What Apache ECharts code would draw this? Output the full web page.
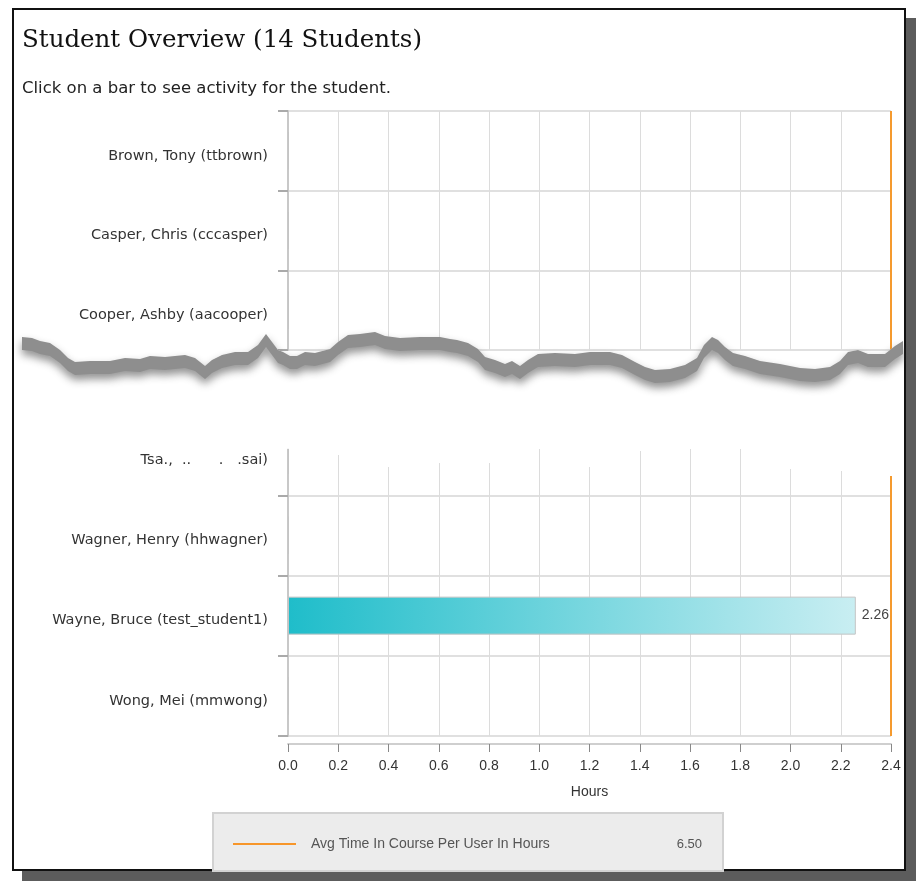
<!DOCTYPE html>
<html>
<head>
<meta charset="utf-8">
<script src="https://cdn.jsdelivr.net/npm/echarts@6/dist/echarts.min.js"></script>
<style>
html,body{margin:0;padding:0;background:#fff;}
#frame{position:absolute;left:12px;top:8px;width:890px;height:859px;border:2px solid #111;background:#fff;box-shadow:10px 10px 0 #5c5c5c;}
#chart{position:absolute;left:0;top:0;width:917px;height:882px;}
</style>
</head>
<body>
<div id="frame"></div>
<div id="chart"></div>
<script>
// ---- data ----
const titleText = 'Student Overview (14 Students)';
const subtitleText = 'Click on a bar to see activity for the student.';
const studentsTop = ['Brown, Tony (ttbrown)', 'Casper, Chris (cccasper)', 'Cooper, Ashby (aacooper)'];
const hoursTop = [0, 0, 0];
const studentsBottom = ['Tsa.,  ..      .   .sai)', 'Wagner, Henry (hhwagner)', 'Wayne, Bruce (test_student1)', 'Wong, Mei (mmwong)'];
const hoursBottom = [0, 0, 2.26, 0];
const xMin = 0, xMax = 2.4, xStep = 0.2;
const xAxisName = 'Hours';
const avgName = 'Avg Time In Course Per User In Hours';
const avgHours = 6.50;

// ---- chart ----
const chart = echarts.init(document.getElementById('chart'), null, {renderer: 'canvas'});
const FONT = "'Liberation Sans', Arial, sans-serif";
const WIDE = "'DejaVu Sans', Verdana, sans-serif";
const avgPos = Math.min(avgHours, xMax);

function xAxisCfg(idx, showLabels) {
  return {
    gridIndex: idx, type: 'value', min: xMin, max: xMax, interval: xStep,
    position: 'bottom', offset: showLabels ? 8 : 0,
    name: showLabels ? xAxisName : '', nameLocation: 'middle', nameGap: 41,
    nameTextStyle: {fontFamily: FONT, fontSize: 14, color: '#333'},
    axisLine: {show: showLabels, lineStyle: {color: '#cfcfcf', width: 2}},
    axisTick: {show: showLabels, length: 8, lineStyle: {color: '#888'}},
    axisLabel: {show: showLabels, margin: 15, fontFamily: FONT, fontSize: 14, color: '#333',
      formatter: v => v.toFixed(1)},
    splitLine: {show: true, showMinLine: false, lineStyle: {color: '#dcdcdc', width: 1}}
  };
}
function yAxisCfg(idx, cats) {
  return {
    gridIndex: idx, type: 'category', data: cats, inverse: true, offset: 7,
    axisLine: {show: true, lineStyle: {color: '#c8c8c8', width: 2}},
    axisTick: {show: true, length: 10, lineStyle: {color: '#aaa', width: 2}},
    axisLabel: {margin: 13, fontFamily: WIDE, fontSize: 14.5, color: '#333', verticalAlign: 'top', lineHeight: 10},
    splitLine: {show: true, lineStyle: {color: '#e0e0e0', width: 2}}
  };
}
function barSeries(idx, vals) {
  return {
    type: 'bar', xAxisIndex: idx, yAxisIndex: idx, data: vals, barWidth: 38, barMinHeight: 1,
    itemStyle: {
      color: new echarts.graphic.LinearGradient(0, 0, 1, 0, [
        {offset: 0, color: '#1fbdca'}, {offset: 1, color: '#c9eef2'}]),
      borderColor: '#c4c4c4', borderWidth: 1
    },
    label: {show: true, position: 'right', distance: 6, fontFamily: FONT, fontSize: 14, color: '#444',
      formatter: p => p.value > 0 ? p.value.toFixed(2) : ''},
    markLine: {
      silent: true, symbol: 'none', label: {show: false},
      lineStyle: {color: '#f59a2e', width: 2, type: 'solid'},
      data: [{xAxis: avgPos}]
    }
  };
}

// torn edge decoration
const tearTop = [[22,337],[32,338],[40,341],[50,343],[60,350],[68,358],[75,362],[90,361],[110,361],[125,358],[140,359],[150,356],[165,357],[185,355],[195,358],[205,366],[212,360],[222,355],[235,352],[248,352],[258,345],[266,334],[272,342],[278,350],[283,352],[290,356],[297,356],[305,352],[315,353],[330,349],[338,342],[348,335],[360,334],[375,332],[385,336],[400,338],[420,337],[440,337],[450,339],[457,340],[468,343],[478,349],[485,357],[495,360],[505,364],[512,361],[520,366],[528,360],[538,354],[555,353],[575,354],[590,352],[610,352],[622,355],[635,362],[645,367],[655,370],[670,369],[685,365],[697,358],[704,345],[712,337],[718,340],[725,347],[733,353],[745,356],[760,361],[780,364],[800,368],[815,369],[830,367],[840,361],[848,352],[858,350],[868,354],[885,354],[895,346],[903,341]];
const coverBottom = [[903,476],[866,476],[866,471],[815,471],[815,469],[765,469],[765,449],[665,449],[665,451],[615,451],[615,467],[564,467],[564,449],[514,449],[514,463],[414,463],[414,467],[363,467],[363,455],[313,455],[313,449],[22,447]];
const coverPts = tearTop.concat(coverBottom);
const bandPts = tearTop.concat(tearTop.slice().reverse().map(p => [p[0], p[1] + 13]));

chart.setOption({
  animation: false,
  title: [
    {text: titleText, left: 22, top: 28, padding: 0, textStyle: {fontFamily: "'DejaVu Serif', Georgia, serif", fontSize: 24.5, fontWeight: 'normal', color: '#111'}},
    {text: subtitleText, left: 22, top: 80, padding: 0, textStyle: {fontFamily: WIDE, fontSize: 16.5, fontWeight: 'normal', color: '#222'}}
  ],
  grid: [
    {left: 288, right: 26, top: 111, height: 239, containLabel: false},
    {left: 288, right: 26, top: 415, height: 321, containLabel: false}
  ],
  xAxis: [xAxisCfg(0, false), xAxisCfg(1, true)],
  yAxis: [yAxisCfg(0, studentsTop), yAxisCfg(1, studentsBottom)],
  series: [barSeries(0, hoursTop), barSeries(1, hoursBottom)],
  graphic: [
    {type: 'polygon', z: 100, silent: true, shape: {points: coverPts}, style: {fill: '#fff'}},
    {type: 'polygon', z: 101, silent: true, shape: {points: bandPts},
      style: {fill: '#8e8e8e', shadowBlur: 9, shadowColor: 'rgba(70,70,70,0.6)', shadowOffsetY: 5}},
    {type: 'group', left: 212, top: 812, z: 110, children: [
      {type: 'rect', shape: {x: 0, y: 0, width: 510, height: 58}, style: {fill: '#ececec', stroke: '#d2d2d2', lineWidth: 2}},
      {type: 'line', shape: {x1: 20, y1: 31, x2: 83, y2: 31}, style: {stroke: '#f7962a', lineWidth: 2}},
      {type: 'text', x: 98, y: 31, style: {text: avgName, fontFamily: FONT, fontSize: 14, fill: '#555', verticalAlign: 'middle'}},
      {type: 'text', x: 489, y: 31, style: {text: avgHours.toFixed(2), fontFamily: FONT, fontSize: 13, fill: '#555', align: 'right', verticalAlign: 'middle'}}
    ]}
  ]
});
</script>
</body>
</html>
